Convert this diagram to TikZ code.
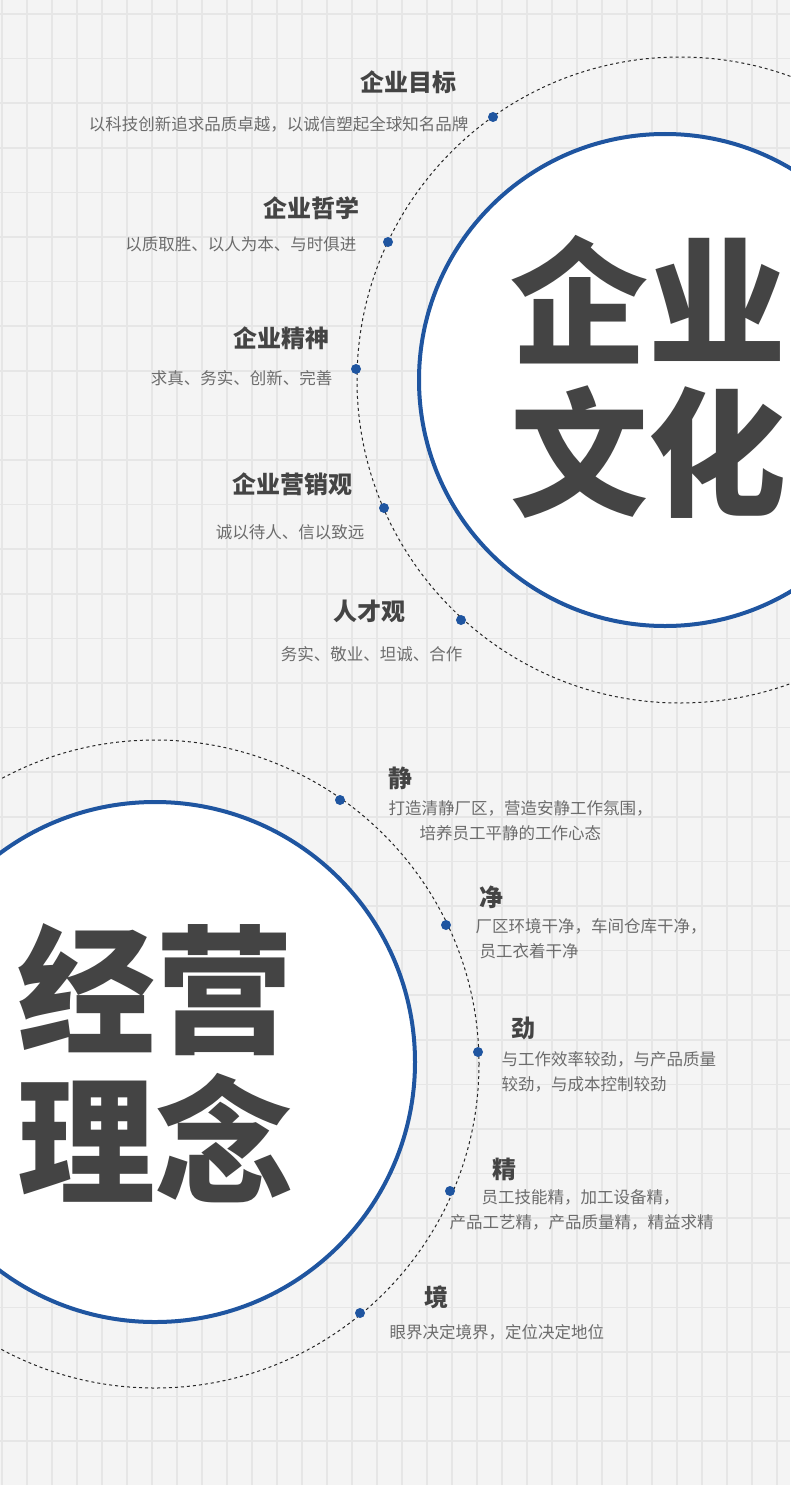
\documentclass[tikz,border=0pt]{standalone}
\usepackage{fontspec}
\setmainfont{Noto Sans CJK SC}
\begin{document}
\begin{tikzpicture}[x=1pt,y=-1pt,
  ttl/.style={font=\fontsize{24}{26}\selectfont\bfseries, text=txt},
  body/.style={font=\fontsize{16.5}{25}\selectfont, text=gray!85!black, align=left},
  big/.style={font=\fontsize{138}{140}\selectfont\bfseries, text=txt},
  dot/.style={circle, fill=blu, inner sep=0pt, minimum size=10pt},
  ring/.style={draw=blu, line width=4pt, fill=white},
  dring/.style={draw=black!85, dashed, line width=1pt}]
\definecolor{txt}{HTML}{444444}
\definecolor{blu}{HTML}{1F55A0}
\definecolor{bg}{HTML}{F4F4F4}
\definecolor{gl}{HTML}{E6E6E6}
\useasboundingbox (0,0) rectangle (790,1485);
\fill[bg] (0,0) rectangle (790,1485);
\foreach \i in {0,...,31} \draw[gl, line width=1.5pt] ({2+25*\i},0) -- ({2+25*\i},1485);
\foreach \j in {0,...,33} \draw[gl, line width=1.5pt] (0,{14+44.6*\j}) -- (790,{14+44.6*\j});
% top
\draw[dring] (680,380) circle (323);
\draw[ring] (665,380) circle (246);
\node[big] (c1) at (648,300) {企业};
\node[big] (c2) at (648,452) {文化};
\node[dot] (d1) at (493,117) {};
\node[dot] (d2) at (388,242) {};
\node[dot] (d3) at (356,369) {};
\node[dot] (d4) at (384,508) {};
\node[dot] (d5) at (461,620) {};
\node[ttl, anchor=east] (t1) at (460,82) {企业目标};
\node[body, anchor=east] (b1) at (472,124) {以科技创新追求品质卓越，以诚信塑起全球知名品牌};
\node[ttl, anchor=east] (t2) at (363,208) {企业哲学};
\node[body, anchor=east] (b2) at (360,244) {以质取胜、以人为本、与时俱进};
\node[ttl, anchor=east] (t3) at (333,338) {企业精神};
\node[body, anchor=east] (b3) at (336,378) {求真、务实、创新、完善};
\node[ttl, anchor=east] (t4) at (356,484) {企业营销观};
\node[body, anchor=east] (b4) at (368,532) {诚以待人、信以致远};
\node[ttl, anchor=east] (t5) at (409,611) {人才观};
\node[body, anchor=east] (b5) at (466,654) {务实、敬业、坦诚、合作};
% bottom
\draw[dring] (155,1064) circle (324);
\draw[ring] (155,1062) circle (260);
\node[big] (e1) at (155,990) {经营};
\node[big] (e2) at (155,1138) {理念};
\node[dot] (f1) at (340,800) {};
\node[dot] (f2) at (446,925) {};
\node[dot] (f3) at (478,1052) {};
\node[dot] (f4) at (450,1191) {};
\node[dot] (f5) at (360,1313) {};
\node[ttl, anchor=west] (g1) at (385,778) {静};
\node[body, anchor=north west] (h1) at (385,797) {打造清静厂区，营造安静工作氛围，\\\hspace*{31pt}培养员工平静的工作心态};
\node[ttl, anchor=west] (g2) at (476,897) {净};
\node[body, anchor=north west] (h2) at (472,915) {厂区环境干净，车间仓库干净，\\\hspace*{4pt}员工衣着干净};
\node[ttl, anchor=west] (g3) at (508,1028) {劲};
\node[body, anchor=north west] (h3) at (498,1048) {与工作效率较劲，与产品质量\\较劲，与成本控制较劲};
\node[ttl, anchor=west] (g4) at (489,1169) {精};
\node[body, anchor=north west] (h4) at (446,1186) {\hspace*{32pt}员工技能精，加工设备精，\\产品工艺精，产品质量精，精益求精};
\node[ttl, anchor=west] (g5) at (421,1297) {境};
\node[body, anchor=west] (h5) at (386,1332) {眼界决定境界，定位决定地位};
\end{tikzpicture}
\end{document}
